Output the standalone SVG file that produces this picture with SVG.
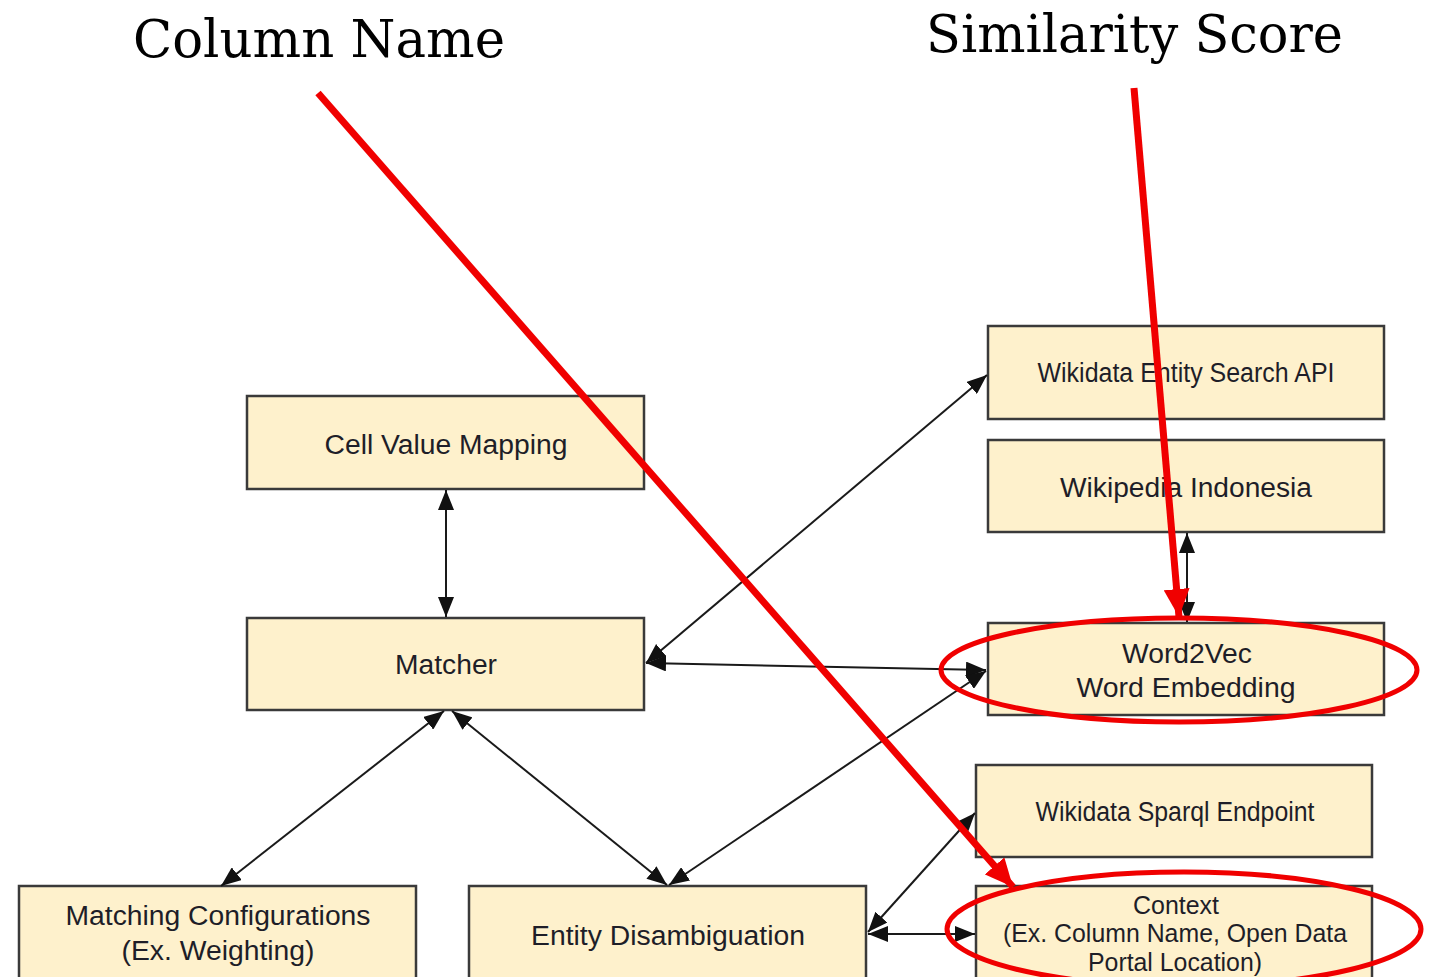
<svg xmlns="http://www.w3.org/2000/svg" width="1436" height="977" viewBox="0 0 1436 977">
  <style>
    .box { fill: #fef1cc; stroke: #3a3a3a; stroke-width: 2.5; }
    .lbl { font-family: "Liberation Sans", Arial, sans-serif; font-size: 27px; fill: #1e1e28; text-anchor: middle; }
    .sm { font-size: 25px; }
    .conn { stroke: #1a1a1a; stroke-width: 2; fill: none; marker-start: url(#ah); marker-end: url(#ah); }
    .red { stroke: #f00000; stroke-width: 7; fill: none; }
    .ell { stroke: #f00000; stroke-width: 5; fill: none; }
    .note { font-family: "DejaVu Serif", "Liberation Serif", serif; font-size: 52px; fill: #000; }
  </style>
  <defs>
    <marker id="ah" viewBox="0 0 20 16" refX="20" refY="8" markerWidth="20" markerHeight="16" markerUnits="userSpaceOnUse" orient="auto-start-reverse">
      <path d="M0,0 L20,8 L0,16 z" fill="#111"/>
    </marker>
    <marker id="rah" viewBox="0 0 28 26" refX="28" refY="13" markerWidth="28" markerHeight="26" markerUnits="userSpaceOnUse" orient="auto">
      <path d="M0,0 L28,13 L0,26 z" fill="#f00000"/>
    </marker>
  </defs>

  <rect width="1436" height="977" fill="#ffffff"/>

  <g id="cell-value-mapping">
    <rect class="box" x="247" y="396" width="397" height="93"/>
    <text class="lbl" x="446" y="454" textLength="243" lengthAdjust="spacingAndGlyphs">Cell Value Mapping</text>
  </g>
  <g id="matcher">
    <rect class="box" x="247" y="618" width="397" height="92"/>
    <text class="lbl" x="446" y="674" textLength="102" lengthAdjust="spacingAndGlyphs">Matcher</text>
  </g>
  <g id="wikidata-entity-search">
    <rect class="box" x="988" y="326" width="396" height="93"/>
    <text class="lbl" x="1186" y="382" textLength="297" lengthAdjust="spacingAndGlyphs">Wikidata Entity Search API</text>
  </g>
  <g id="wikipedia-indonesia">
    <rect class="box" x="988" y="440" width="396" height="92"/>
    <text class="lbl" x="1186" y="497" textLength="252" lengthAdjust="spacingAndGlyphs">Wikipedia Indonesia</text>
  </g>
  <g id="word2vec">
    <rect class="box" x="988" y="623" width="396" height="92"/>
    <text class="lbl" x="1187" y="663" textLength="130" lengthAdjust="spacingAndGlyphs">Word2Vec</text>
    <text class="lbl" x="1186" y="697" textLength="219" lengthAdjust="spacingAndGlyphs">Word Embedding</text>
  </g>
  <g id="wikidata-sparql">
    <rect class="box" x="976" y="765" width="396" height="92"/>
    <text class="lbl" x="1175" y="821" textLength="279" lengthAdjust="spacingAndGlyphs">Wikidata Sparql Endpoint</text>
  </g>
  <g id="context">
    <rect class="box" x="976" y="886" width="396" height="100"/>
    <text class="lbl sm" x="1176" y="914" textLength="86" lengthAdjust="spacingAndGlyphs">Context</text>
    <text class="lbl sm" x="1175" y="942" textLength="344" lengthAdjust="spacingAndGlyphs">(Ex. Column Name, Open Data</text>
    <text class="lbl sm" x="1175" y="971" textLength="174" lengthAdjust="spacingAndGlyphs">Portal Location)</text>
  </g>
  <g id="matching-configurations">
    <rect class="box" x="19" y="886" width="397" height="100"/>
    <text class="lbl" x="218" y="925" textLength="305" lengthAdjust="spacingAndGlyphs">Matching Configurations</text>
    <text class="lbl" x="218" y="960" textLength="193" lengthAdjust="spacingAndGlyphs">(Ex. Weighting)</text>
  </g>
  <g id="entity-disambiguation">
    <rect class="box" x="469" y="886" width="397" height="100"/>
    <text class="lbl" x="668" y="945" textLength="274" lengthAdjust="spacingAndGlyphs">Entity Disambiguation</text>
  </g>

  <g id="connectors">
    <line class="conn" x1="446" y1="490" x2="446" y2="617"/>
    <line class="conn" x1="646" y1="663" x2="987" y2="375"/>
    <line class="conn" x1="646" y1="663" x2="986" y2="670"/>
    <line class="conn" x1="1187" y1="533" x2="1187" y2="622"/>
    <line class="conn" x1="444" y1="711" x2="221" y2="886"/>
    <line class="conn" x1="452" y1="711" x2="667" y2="885"/>
    <line class="conn" x1="986" y1="671" x2="669" y2="885"/>
    <line class="conn" x1="975" y1="813" x2="868" y2="932"/>
    <line class="conn" x1="868" y1="934" x2="975" y2="934"/>
  </g>

  <g id="annotations">
    <text class="note" x="133" y="57" textLength="372" lengthAdjust="spacingAndGlyphs">Column Name</text>
    <text class="note" x="926" y="52" textLength="417" lengthAdjust="spacingAndGlyphs">Similarity Score</text>
    <line class="red" x1="318" y1="93" x2="1013" y2="887" marker-end="url(#rah)"/>
    <line class="red" x1="1134" y1="88" x2="1179" y2="617" marker-end="url(#rah)"/>
    <ellipse class="ell" cx="1179" cy="670" rx="238" ry="52"/>
    <ellipse class="ell" cx="1184" cy="929" rx="237" ry="57"/>
  </g>
</svg>
